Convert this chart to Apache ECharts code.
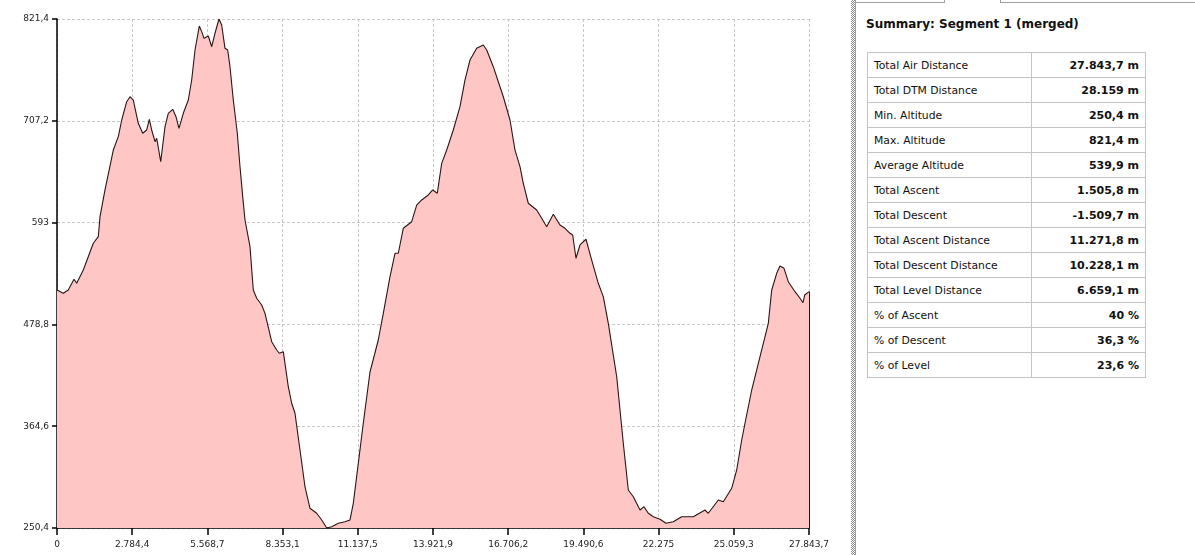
<!DOCTYPE html>
<html>
<head>
<meta charset="utf-8">
<script src="https://cdn.jsdelivr.net/npm/echarts@6/dist/echarts.min.js"></script>
<style>
  html, body { margin:0; padding:0; background:#fff; width:1195px; height:555px; overflow:hidden; font-family:"DejaVu Sans", Verdana, sans-serif; }
  #chart { position:absolute; left:0; top:0; width:850px; height:555px; }
  #splitter { position:absolute; left:851px; top:0; width:4px; height:555px;
    background-image: repeating-conic-gradient(#8a8a8a 0 25%, #ffffff 0 50%); background-size:2px 2px; }
  #splitline { position:absolute; left:855px; top:0; width:1px; height:555px; background:#a0a0a0; }
  #panel { position:absolute; left:856px; top:0; width:339px; height:555px; background:#fff; }
  .tab1 { position:absolute; left:0; top:0; width:88px; height:2px; border-bottom:1px solid #a0a0a0; border-right:1px solid #a0a0a0; }
  .tab2 { position:absolute; left:144px; top:0; right:0; height:2px; border-bottom:1px solid #a0a0a0; border-left:1px solid #a0a0a0; }
  #title { position:absolute; left:10px; top:17px; font-weight:bold; font-size:12px; color:#111; white-space:nowrap; }
  table { position:absolute; left:11px; top:52px; width:279px; border-collapse:collapse; border:1px solid #b4b4b4; }
  td { height:24px; border:1px solid #c4c4c4; font-size:10.8px; color:#111; padding:0 6px; white-space:nowrap; }
  td.k { width:151px; }
  td.v { text-align:right; font-weight:bold; font-size:11px; }
</style>
</head>
<body>
<div id="chart"></div>
<div id="splitter"></div>
<div id="splitline"></div>
<div id="panel">
  <div class="tab1"></div><div class="tab2"></div>
  <div id="title">Summary: Segment 1 (merged)</div>
  <table id="tbl"></table>
</div>
<script>
// distance along track (m)
const distances = [
  0, 233, 418, 629, 729, 974, 1344, 1529, 1592, 1777,
  2085, 2270, 2396, 2581, 2703, 2825, 3010, 3173, 3321, 3418,
  3506, 3629, 3691, 3840, 3999, 4121, 4284, 4406, 4517, 4676,
  4862, 4987, 5110, 5269, 5358, 5443, 5602, 5728, 5850, 5998,
  6098, 6220, 6320, 6405, 6528, 6676, 6776, 6876, 6961, 7146,
  7268, 7394, 7579, 7701, 7950, 8135, 8231, 8379, 8564, 8690,
  8812, 8997, 9182, 9367, 9616, 9801, 9986, 10171, 10415, 10663,
  10849, 10971, 11156, 11341, 11589, 11896, 12082, 12330, 12515, 12637,
  12822, 13133, 13318, 13503, 13748, 13911, 14081, 14244, 14429, 14673,
  14921, 15107, 15292, 15540, 15784, 15910, 16154, 16525, 16773, 16958,
  17143, 17265, 17450, 17761, 17946, 18132, 18376, 18624, 18809, 18994,
  19094, 19216, 19364, 19586, 19798, 20042, 20227, 20413, 20724, 20968,
  21153, 21339, 21586, 21734, 21893, 22079, 22327, 22549, 22819, 23130,
  23560, 23993, 24115, 24486, 24671, 24981, 25167, 25352, 25474, 25722,
  26030, 26215, 26337, 26463, 26648, 26770, 26918, 27077, 27325, 27510,
  27622, 27685, 27843.7
];
// altitude (m)
const altitudes = [
  517.4, 513.7, 517.4, 529.4, 524.9, 539.8, 569.8, 577.2, 599.6, 629.6,
  674.4, 689.4, 708.1, 728.6, 734.2, 730.5, 704.4, 693.2, 696.9, 708.9,
  696.9, 683.8, 687.6, 661.3, 700.6, 715.6, 720.1, 711.8, 698.8, 715.6,
  730.5, 753.0, 786.6, 813.5, 807.2, 799.7, 802.3, 790.3, 805.4, 821.4,
  814.7, 788.5, 786.6, 767.9, 730.5, 693.2, 655.7, 622.1, 595.9, 566.0,
  517.4, 508.1, 500.6, 491.2, 459.4, 450.1, 446.4, 448.2, 408.9, 390.3,
  379.1, 337.9, 296.7, 272.5, 266.9, 259.4, 250.4, 251.9, 255.7, 257.5,
  259.4, 278.1, 323.0, 367.9, 425.4, 461.3, 491.2, 532.3, 558.6, 558.6,
  586.6, 594.0, 612.7, 618.4, 624.0, 629.6, 625.9, 659.5, 674.4, 696.9,
  723.0, 753.0, 775.4, 788.5, 792.2, 786.6, 767.9, 734.2, 708.1, 674.4,
  655.7, 637.1, 614.7, 607.1, 597.8, 588.4, 602.3, 590.3, 586.6, 581.0,
  579.1, 553.0, 567.9, 574.3, 551.0, 524.9, 509.9, 480.0, 420.1, 345.4,
  293.0, 285.5, 270.6, 274.3, 266.9, 263.1, 260.2, 255.7, 257.5, 263.1,
  263.1, 270.6, 266.9, 281.8, 279.9, 294.9, 315.5, 349.1, 367.9, 405.2,
  442.6, 465.0, 480.0, 517.4, 536.1, 544.3, 541.7, 526.7, 515.5, 508.1,
  503.1, 511.8, 515.5
];
const xTickStep = 2784.37;
const xMax = 27843.7;
const yTicks = [250.4, 364.6, 478.8, 593, 707.2, 821.4];

const summaryLabels = [
  "Total Air Distance", "Total DTM Distance", "Min. Altitude", "Max. Altitude",
  "Average Altitude", "Total Ascent", "Total Descent", "Total Ascent Distance",
  "Total Descent Distance", "Total Level Distance", "% of Ascent", "% of Descent", "% of Level"
];
const summaryValues = [
  "27.843,7 m", "28.159 m", "250,4 m", "821,4 m", "539,9 m", "1.505,8 m", "-1.509,7 m",
  "11.271,8 m", "10.228,1 m", "6.659,1 m", "40 %", "36,3 %", "23,6 %"
];

const tbl = document.getElementById('tbl');
summaryLabels.forEach((k, i) => {
  const tr = document.createElement('tr');
  const a = document.createElement('td'); a.className = 'k'; a.textContent = k;
  const b = document.createElement('td'); b.className = 'v'; b.textContent = summaryValues[i];
  tr.appendChild(a); tr.appendChild(b); tbl.appendChild(tr);
});

function fmt(v) {
  const s = (Math.round(v * 10) / 10).toFixed(1);
  let [ip, dp] = s.split('.');
  ip = ip.replace(/\B(?=(\d{3})+(?!\d))/g, '.');
  return dp === '0' ? ip : ip + ',' + dp;
}

const data = distances.map((d, i) => [d, altitudes[i]]);
const yMin = yTicks[0], yMax = yTicks[yTicks.length - 1];
const lastPt = data[data.length - 1];

const chart = echarts.init(document.getElementById('chart'), null, { renderer: 'canvas' });
chart.setOption({
  animation: false,
  grid: { left: 57, right: 41, top: 19, bottom: 27 },
  xAxis: {
    type: 'value', min: 0, max: xMax, interval: xTickStep,
    axisLine: { show: true, lineStyle: { color: '#000', width: 1.5 } },
    axisTick: { show: true, length: 7, lineStyle: { color: '#000', width: 1.5 } },
    axisLabel: { fontFamily: 'DejaVu Sans', fontSize: 9, color: '#222', margin: 12, formatter: fmt, showMaxLabel: true, showMinLabel: true },
    splitLine: { show: true, lineStyle: { color: '#c8c8c8', type: [3, 2], width: 1 } }
  },
  yAxis: {
    type: 'value', min: yMin, max: yMax,
    axisLine: { show: true, lineStyle: { color: '#000', width: 1.5 } },
    axisTick: { show: true, length: 5, customValues: yTicks, lineStyle: { color: '#000', width: 1.5 } },
    axisLabel: { fontFamily: 'DejaVu Sans', fontSize: 9, color: '#222', margin: 8, customValues: yTicks, formatter: fmt },
    splitLine: { show: true, customValues: yTicks, lineStyle: { color: '#c8c8c8', type: [3, 2], width: 1 } }
  },
  series: [{
    type: 'line',
    data: data,
    showSymbol: false,
    symbol: 'none',
    lineStyle: { color: '#2b1515', width: 1.1 },
    areaStyle: { color: '#ffc6c6', opacity: 1, origin: 'start' },
    markLine: {
      silent: true, symbol: 'none', label: { show: false },
      lineStyle: { color: '#2b1515', width: 1, type: 'solid' },
      data: [[{ coord: [lastPt[0], yMin] }, { coord: [lastPt[0], lastPt[1]] }]]
    }
  }]
});
</script>
</body>
</html>
